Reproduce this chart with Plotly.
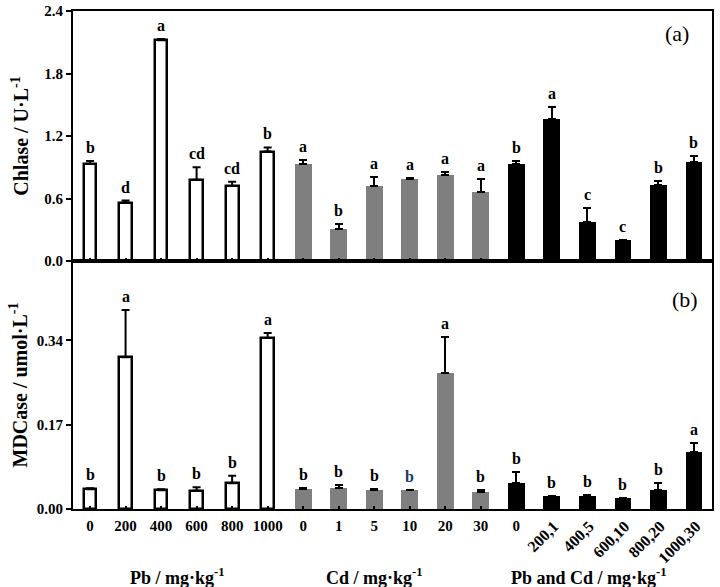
import plotly.graph_objects as go

# ---------------- data ----------------
pb_labels = ["0", "200", "400", "600", "800", "1000"]
cd_labels = ["0", "1", "5", "10", "20", "30"]
mix_labels = ["0", "200,1", "400,5", "600,10", "800,20", "1000,30"]

# Chlase (U·L-1)
chl_pb = [0.93, 0.56, 2.12, 0.78, 0.72, 1.05]
chl_pb_err = [0.03, 0.02, 0.01, 0.12, 0.04, 0.04]
chl_cd = [0.93, 0.31, 0.72, 0.79, 0.83, 0.66]
chl_cd_err = [0.035, 0.05, 0.085, 0.01, 0.02, 0.13]
chl_mix = [0.93, 1.36, 0.37, 0.20, 0.73, 0.95]
chl_mix_err = [0.03, 0.115, 0.14, 0.005, 0.04, 0.06]
chl_pb_let = ["b", "d", "a", "cd", "cd", "b"]
chl_cd_let = ["a", "b", "a", "a", "a", "a"]
chl_mix_let = ["b", "a", "c", "c", "b", "b"]

# MDCase (umol·L-1)
mdc_pb = [0.040, 0.306, 0.038, 0.037, 0.052, 0.345]
mdc_pb_err = [0.002, 0.095, 0.002, 0.007, 0.015, 0.010]
mdc_cd = [0.040, 0.042, 0.038, 0.038, 0.275, 0.034]
mdc_cd_err = [0.002, 0.007, 0.003, 0.0, 0.071, 0.004]
mdc_mix = [0.053, 0.027, 0.026, 0.022, 0.038, 0.115]
mdc_mix_err = [0.022, 0.0, 0.003, 0.001, 0.015, 0.019]
mdc_pb_let = ["b", "a", "b", "b", "b", "a"]
mdc_cd_let = ["b", "b", "b", "b", "a", "b"]
mdc_mix_let = ["b", "b", "b", "b", "b", "a"]

# ---------------- figure ----------------
FONT = "Liberation Serif"
n = len(pb_labels)
x_pb = list(range(0, n))
x_cd = list(range(n, 2 * n))
x_mix = list(range(2 * n, 3 * n))
all_labels = pb_labels + cd_labels + mix_labels
N = len(all_labels)
xr = [-0.48, N - 0.49]

fig = go.Figure()

groups = [
    (x_pb, "white", "black", 2.5, 0.36),
    (x_cd, "#7f7f7f", "#7f7f7f", 0, 0.47),
    (x_mix, "black", "black", 0, 0.47),
]

panels = [
    ("x", "y", [chl_pb, chl_cd, chl_mix], [chl_pb_err, chl_cd_err, chl_mix_err],
     [chl_pb_let, chl_cd_let, chl_mix_let]),
    ("x2", "y2", [mdc_pb, mdc_cd, mdc_mix], [mdc_pb_err, mdc_cd_err, mdc_mix_err],
     [mdc_pb_let, mdc_cd_let, mdc_mix_let]),
]

annotations = []
for xa, ya, vals, errs, lets in panels:
    for (xs, fill, lc, lw, w), v, e, l in zip(groups, vals, errs, lets):
        fig.add_trace(go.Bar(
            x=xs, y=v, xaxis=xa, yaxis=ya, width=w,
            marker=dict(color=fill, line=dict(color=lc, width=lw)),
            error_y=dict(type="data", symmetric=False, array=e,
                         arrayminus=[0] * len(e), color="black",
                         thickness=2, width=4),
            showlegend=False,
        ))
        for xi, vi, ei, li in zip(xs, v, e, l):
            color = "black"
            if ya == "y2" and xi == 9:
                color = "#1c3a66"
            annotations.append(dict(
                x=xi, y=vi + ei, xref=xa, yref=ya, text=li, showarrow=False,
                yanchor="bottom", yshift=3,
                font=dict(family=FONT, size=16, color=color, weight="bold"),
            ))

# panel tags
annotations.append(dict(x=0.945, y=0.955, xref="paper", yref="paper", text="(a)",
                        xanchor="center", yanchor="middle", showarrow=False,
                        font=dict(family=FONT, size=22, color="black")))
annotations.append(dict(x=0.957, y=0.421, xref="paper", yref="paper", text="(b)",
                        xanchor="center", yanchor="middle", showarrow=False,
                        font=dict(family=FONT, size=22, color="black")))

# group labels
group_titles = ["Pb / mg·kg<sup>-1</sup>", "Cd / mg·kg<sup>-1</sup>",
                "Pb and Cd / mg·kg<sup>-1</sup>"]
group_pos = [2.45, 8.0, 14.05]
for t, gx in zip(group_titles, group_pos):
    annotations.append(dict(x=gx, y=-0.135, xref="x2", yref="paper", text=t,
                            showarrow=False, xanchor="center", yanchor="middle",
                            font=dict(family=FONT, size=18, color="black", weight="bold")))

tickfont = dict(family=FONT, size=15, color="black", weight="bold")
rot_tickfont = dict(family=FONT, size=16, color="black", weight="bold")
n_horiz = 2 * n + 1

common_x = dict(range=xr, showline=True, linecolor="black", linewidth=2,
                mirror=True, ticks="inside", ticklen=3, tickcolor="black",
                tickwidth=1.5, showgrid=False, zeroline=False, automargin=False)
common_y = dict(showline=True, linecolor="black", linewidth=2, mirror=True,
                ticks="outside", ticklen=5, tickcolor="black", tickwidth=2,
                showgrid=False, zeroline=False, tickfont=tickfont, automargin=False)

fig.update_layout(
    width=720, height=587,
    margin=dict(l=73, r=8, t=11, b=78),
    paper_bgcolor="white", plot_bgcolor="white",
    bargap=0, barmode="overlay",
    xaxis=dict(domain=[0, 1], anchor="y", tickvals=list(range(N)),
               showticklabels=False, **common_x),
    xaxis2=dict(domain=[0, 1], anchor="y2", tickvals=list(range(n_horiz)),
                ticktext=all_labels[:n_horiz], tickangle=0, tickfont=tickfont,
                ticklabelstandoff=2, **common_x),
    xaxis3=dict(overlaying="x2", anchor="y2", range=xr,
                tickvals=list(range(n_horiz, N)), ticktext=all_labels[n_horiz:],
                tickangle=-45, tickfont=rot_tickfont, showline=False, ticks="",
                showgrid=False, zeroline=False, side="bottom", automargin=False,
                ticklabelshift=2, ticklabelstandoff=4),
    yaxis=dict(domain=[0.498, 1], anchor="x", range=[0, 2.4],
               tickvals=[0, 0.6, 1.2, 1.8, 2.4], tickformat=".1f",
               title=dict(text="Chlase / U·L<sup>-1</sup>", standoff=10,
                          font=dict(family=FONT, size=20, color="black", weight="bold")),
               **common_y),
    yaxis2=dict(domain=[0, 0.498], anchor="x2", range=[0, 0.5],
                tickvals=[0, 0.17, 0.34], tickformat=".2f",
                title=dict(text="MDCase / umol·L<sup>-1</sup>", standoff=4,
                           font=dict(family=FONT, size=20, color="black", weight="bold")),
                **common_y),
    annotations=annotations,
)

# invisible trace to activate xaxis3
fig.add_trace(go.Scatter(x=[None], y=[None], xaxis="x3", yaxis="y2",
                         showlegend=False, hoverinfo="skip"))

fig.write_html("out.html", config={"displayModeBar": False},
               post_script="document.body.style.margin='0';")
